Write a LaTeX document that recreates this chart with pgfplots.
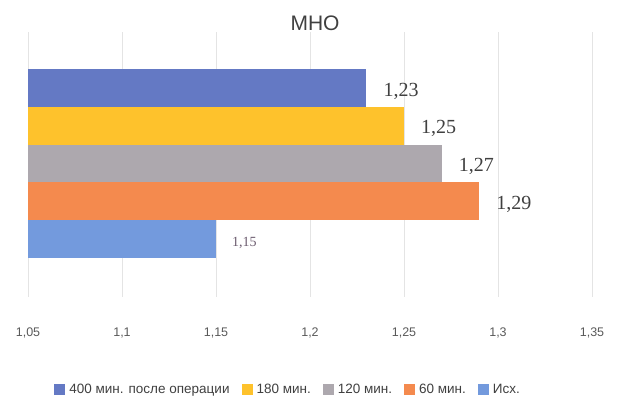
\documentclass[border=0pt]{standalone}
\usepackage{pgfplots}
\pgfplotsset{compat=1.18}
\usepackage{fontspec}
\setmainfont{Liberation Sans}
\newfontfamily\labelserif{Liberation Serif}

\definecolor{cBlue}{HTML}{6479C4}
\definecolor{cGold}{HTML}{FEC22C}
\definecolor{cGray}{HTML}{ADA8AE}
\definecolor{cOrange}{HTML}{F48A4E}
\definecolor{cLight}{HTML}{739ADD}
\definecolor{gridc}{HTML}{E4E4E4}
\definecolor{tickc}{HTML}{595959}
\definecolor{titlec}{HTML}{404040}
\definecolor{smalllab}{HTML}{6B5B6E}

\begin{document}
\begin{tikzpicture}
\path[use as bounding box] (0,0) rectangle (621pt,403pt);
\begin{axis}[
  at={(28pt,106pt)}, anchor=south west,
  scale only axis, width=564pt, height=265pt,
  xmin=1.05, xmax=1.35, ymin=-1.53, ymax=5.48,
  xbar, bar width=1, bar shift=0pt,
  axis line style={draw=none},
  xtick={1.05,1.1,1.15,1.2,1.25,1.3,1.35},
  xticklabels={{1,05},{1,1},{1,15},{1,2},{1,25},{1,3},{1,35}},
  xticklabel style={anchor=center, yshift=-36pt, font=\fontsize{12.5}{14}\selectfont, text=tickc},
  ytick=\empty,
  major tick length=0pt,
  xmajorgrids, grid style={gridc, line width=0.8pt},
  /pgf/number format/assume math mode=true,
  title={МНО},
  title style={at={(axis description cs:0.509,1.012)}, anchor=center,
    font=\fontsize{21}{24}\selectfont, text=titlec},
  legend style={at={(axis description cs:0.463,-0.35)}, anchor=center,
    draw=none, font=\fontsize{13.5}{15}\selectfont, text=titlec,
    /tikz/every even column/.append style={column sep=8pt},
    /tikz/every odd column/.append style={column sep=0pt},
    nodes={inner xsep=4pt}},
  legend columns=-1,
  legend image code/.code={\fill[#1] (0pt,-5.5pt) rectangle (11pt,5.5pt);},
  nodes near coords={\pgfmathprintnumber[use comma,fixed,fixed zerofill,precision=2]{\pgfplotspointmeta}},
  nodes near coords style={anchor=west, inner sep=0pt, xshift=17pt, yshift=-3pt,
    font=\labelserif\fontsize{20}{22}\selectfont, text=titlec},
]
\addplot[fill=cBlue, draw=none] coordinates {(1.23,4)};
\addlegendentry{400 мин. после операции}
\addplot[fill=cGold, draw=none] coordinates {(1.25,3)};
\addlegendentry{180 мин.}
\addplot[fill=cGray, draw=none] coordinates {(1.27,2)};
\addlegendentry{120 мин.}
\addplot[fill=cOrange, draw=none] coordinates {(1.29,1)};
\addlegendentry{60 мин.}
\addplot[fill=cLight, draw=none,
  nodes near coords style={font=\labelserif\fontsize{14}{16}\selectfont, text=smalllab, xshift=-1pt, yshift=-1pt}]
  coordinates {(1.15,0)};
\addlegendentry{Исх.}
\end{axis}
\end{tikzpicture}
\end{document}
